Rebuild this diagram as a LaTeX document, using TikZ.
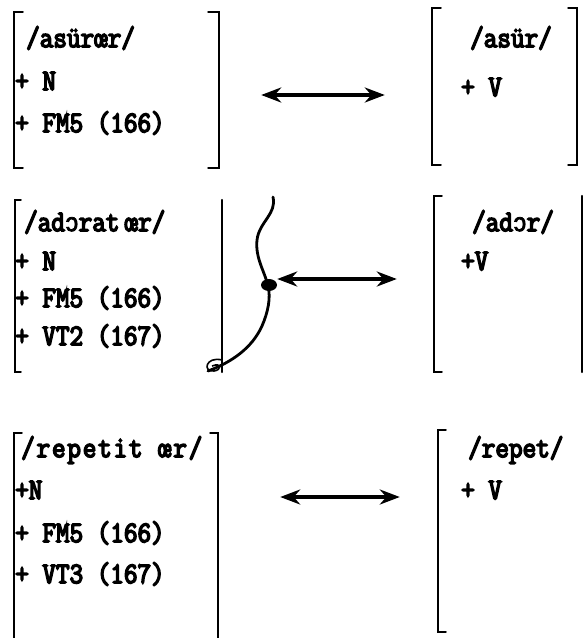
\documentclass[tikz,border=0pt]{standalone}
\usepackage{fontspec}
\newfontfamily\tw{Latin Modern Mono}[FakeStretch=0.88, FakeBold=5]
\newfontfamily\ipa{Liberation Mono}[FakeStretch=0.88, FakeBold=3]
\usetikzlibrary{arrows.meta}

\tikzset{
  box/.style={draw=none, inner sep=0pt, minimum width=#1},
  entry/.style={anchor=mid west, inner sep=0pt, font=\tw\fontsize{30}{30}\selectfont},
  brk/.style={line width=1.9pt, line cap=round, line join=miter},
  pair/.style={line width=3.5pt,
    {Stealth[length=20pt,width=15pt]}-{Stealth[length=20pt,width=15pt]}},
  squig/.style={line width=2.8pt, line cap=round, line join=round},
}

% open-o set from a font that has it
\newcommand{\oo}{{\ipa\fontsize{26}{30}\selectfont ɔ}}

% left and right square brackets round a box node
\newcommand{\lbrk}[2]{%
  \draw[brk] ([xshift=#2]#1.north west) -- (#1.north west) -- (#1.south west) -- ([xshift=#2]#1.south west);}
\newcommand{\rbrk}[2]{%
  \draw[brk] ([xshift=-#2]#1.north east) -- (#1.north east) -- (#1.south east) -- ([xshift=-#2]#1.south east);}

\begin{document}
\begin{tikzpicture}[x=1pt,y=-1pt]
  \useasboundingbox (0,0) rectangle (584,638);

  % ---------- row 1 ----------
  \node[box=205pt, minimum height=156pt] (L1) at (116.5,90) {};
  \node[box=145pt, minimum height=157pt] (R1) at (504.5,86.5) {};
  \lbrk{L1}{9pt} \rbrk{L1}{11pt}
  \lbrk{R1}{9pt} \rbrk{R1}{9pt}
  \node[entry] (L1a) at (26,45)  {/asürœr/};
  \node[entry] (L1b) at (15,88)  {+ N};
  \node[entry] (L1c) at (15,130) {+ FM5 (166)};
  \node[entry] (R1a) at (470,45) {/asür/};
  \node[entry] (R1b) at (461,94) {+ V};
  \draw[pair, shorten <=42pt, shorten >=47pt]
    ([yshift=-5pt]L1.east) -- ([yshift=-5pt]L1.east -| R1.west);

  % ---------- row 2 ----------
  \node[box=207pt, minimum height=172pt] (L2) at (118.5,286) {};
  \node[box=148pt, minimum height=176pt] (R2) at (508,284) {};
  \lbrk{L2}{6pt} \rbrk{L2}{0pt}
  \lbrk{R2}{8pt} \rbrk{R2}{0pt}
  \node[entry] (L2a) at (24,229)  {/ad\oo rat\,œr/};
  \node[entry] (L2b) at (15,268)  {+ N};
  \node[entry] (L2c) at (15,305)  {+ FM5 (166)};
  \node[entry] (L2d) at (15,343)  {+ VT2 (167)};
  \node[entry] (R2a) at (472,229) {/ad\oo r/};
  \node[entry] (R2b) at (461,268) {+V};
  \draw[pair, shorten <=55pt, shorten >=37pt]
    ([yshift=7pt]L2.east) -- ([yshift=7pt]L2.east -| R2.west);

  % hand-drawn curl beside the second entry
  \draw[squig] (273,197) .. controls (277,214) and (259,222) .. (257,240)
               .. controls (255,258) and (265,272) .. (268,286)
               .. controls (271,298) and (268,312) .. (262,326)
               .. controls (252,348) and (232,362) .. (208,371);
  \draw[line width=1.6pt] (222,360) .. controls (206,356) and (202,372) .. (214,371)
                          .. controls (222,370) and (222,362) .. (212,366);
  \fill (269,285) ellipse (8pt and 6pt);

  % ---------- row 3 ----------
  \node[box=204pt, minimum height=220pt] (L3) at (116,543) {};
  \node[box=150pt, minimum height=202pt] (R3) at (513,531) {};
  \lbrk{L3}{8pt} \rbrk{L3}{8pt}
  \draw[brk] ([xshift=8pt]R3.north west) -- (R3.north west) -- (R3.south west) -- ([xshift=8pt]R3.south west);
  \node[entry] (L3a) at (21,455)  {\addfontfeatures{LetterSpace=6}/repetit œr/};
  \node[entry] (L3b) at (15,497)  {+N};
  \node[entry] (L3c) at (15,540)  {+ FM5 (166)};
  \node[entry] (L3d) at (15,581)  {+ VT3 (167)};
  \node[entry] (R3a) at (468,455) {/repet/};
  \node[entry] (R3b) at (461,497) {+ V};
  \draw[pair, shorten <=62pt, shorten >=38pt]
    ([yshift=46pt]L3.east) -- ([yshift=46pt]L3.east -| R3.west);
\end{tikzpicture}
\end{document}
